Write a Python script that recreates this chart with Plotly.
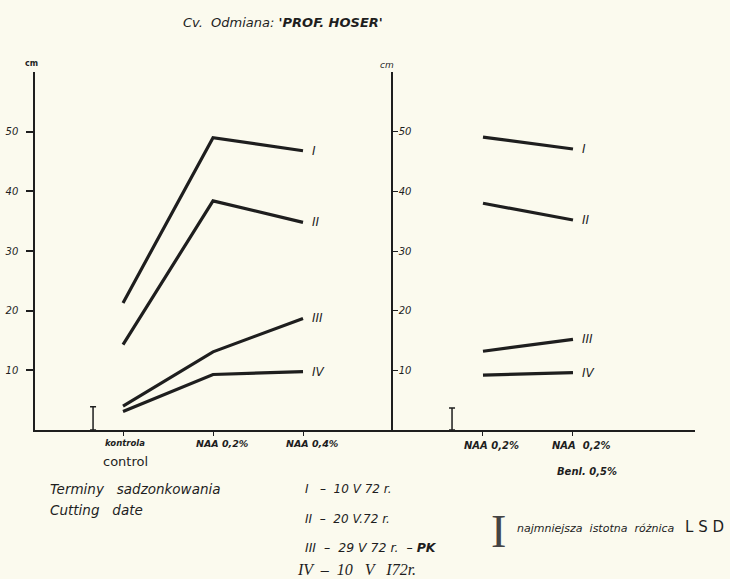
import plotly.graph_objects as go

# ---- data ----
left_categories = ["kontrola", "NAA 0,2%", "NAA 0,4%"]
left_sublabels = ["control", "", ""]
right_categories = ["NAA 0,2%", "NAA  0,2%"]
right_sublabels = ["", "Benl. 0,5%"]
series_names = ["I", "II", "III", "IV"]
left_values = {
    "I": [21.3, 49.0, 46.8],
    "II": [14.3, 38.4, 34.8],
    "III": [4.0, 13.1, 18.7],
    "IV": [3.1, 9.3, 9.8],
}
right_values = {
    "I": [49.1, 47.1],
    "II": [38.0, 35.2],
    "III": [13.2, 15.2],
    "IV": [9.2, 9.6],
}
lsd_left = 3.9
lsd_right = 3.7
y_ticks = [10, 20, 30, 40, 50]

# ---- layout constants ----
W, H = 730, 579
ML, MR, MT, MB = 35, 35, 72, 149
PW = W - ML - MR
PH = H - MT - MB
split = 358 / PW
LSD_POS_LEFT = -0.333
LSD_POS_RIGHT = -0.344
BG = "#fbfaee"
INK = "#1e1e1e"
SANS = "DejaVu Sans"
SERIF = "Liberation Serif"


def px(x, y):
    return (x - ML) / PW, (H - MB - y) / PH


def ann(text, x, y, size, xanchor="left", family=SANS, style="italic", color=INK):
    ax, ay = px(x, y)
    return dict(text=text, xref="paper", yref="paper", x=ax, y=ay,
                xanchor=xanchor, yanchor="middle", showarrow=False,
                font=dict(family=family, size=size, color=color, style=style))


fig = go.Figure()

left_x = list(range(len(left_categories)))
right_x = list(range(len(right_categories)))

for name in series_names:
    fig.add_trace(go.Scatter(x=left_x, y=left_values[name], mode="lines",
                             line=dict(color=INK, width=3.2), xaxis="x", yaxis="y",
                             showlegend=False))
    fig.add_trace(go.Scatter(x=right_x, y=right_values[name], mode="lines",
                             line=dict(color=INK, width=3.2), xaxis="x2", yaxis="y2",
                             showlegend=False))

# LSD bars
for xa, ya, pos, val in [("x", "y", LSD_POS_LEFT, lsd_left), ("x2", "y2", LSD_POS_RIGHT, lsd_right)]:
    fig.add_trace(go.Scatter(x=[pos], y=[0], mode="markers", xaxis=xa, yaxis=ya,
                             marker=dict(size=1, color="rgba(0,0,0,0)"), showlegend=False,
                             error_y=dict(type="data", symmetric=False, array=[val],
                                          arrayminus=[0], width=3, thickness=1.5, color=INK)))

annotations = []
# series labels at line ends
for name in series_names:
    annotations.append(dict(text=name, x=left_x[-1], y=left_values[name][-1], xref="x", yref="y",
                            xanchor="left", yanchor="middle", xshift=7, showarrow=False,
                            font=dict(family=SANS, size=12, color=INK, style="italic")))
    annotations.append(dict(text=name, x=right_x[-1], y=right_values[name][-1], xref="x2", yref="y2",
                            xanchor="left", yanchor="middle", xshift=7, showarrow=False,
                            font=dict(family=SANS, size=12, color=INK, style="italic")))

# category labels
for i, (c, s) in enumerate(zip(left_categories, left_sublabels)):
    annotations.append(dict(text=f"<b>{c}</b>", x=i, y=0, xref="x", yref="y", yanchor="middle",
                            yshift=-13, xshift=2 if i == 0 else 9, showarrow=False,
                            font=dict(family=SANS, size=8.5 if i == 0 else 9.5, color=INK,
                                      style="italic")))
    if s:
        annotations.append(dict(text=s, x=i, y=0, xref="x", yref="y", yanchor="middle",
                                yshift=-31, xshift=2, showarrow=False,
                                font=dict(family=SANS, size=13, color=INK)))
for i, (c, s) in enumerate(zip(right_categories, right_sublabels)):
    annotations.append(dict(text=f"<b>{c}</b>", x=i, y=0, xref="x2", yref="y2", yanchor="middle",
                            yshift=-15, xshift=9, showarrow=False,
                            font=dict(family=SANS, size=10, color=INK, style="italic")))
    if s:
        annotations.append(dict(text=f"<b>{s}</b>", x=i, y=0, xref="x2", yref="y2", yanchor="middle",
                                yshift=-41, xshift=14, showarrow=False,
                                font=dict(family=SANS, size=10, color=INK, style="italic")))

# cm labels
annotations.append(ann("<b>cm</b>", 31, 63, 8, xanchor="center", style="normal"))
annotations.append(ann("cm", 387, 65, 9, xanchor="center"))

# title
annotations.append(ann("Cv.  Odmiana: <b>'PROF. HOSER'</b>", 283, 23, 13, xanchor="center"))

# bottom notes
annotations += [
    ann("Terminy   sadzonkowania", 48, 489, 13.5),
    ann("Cutting   date", 48, 510, 13.5),
    ann("I   –  10 V 72 r.", 303, 489, 12),
    ann("II  –  20 V.72 r.", 303, 519, 12),
    ann("III  –  29 V 72 r.  – <b>PK</b>", 303, 547, 12.5),
    ann("IV  –  10   V   I72r.", 295, 569, 16, family=SERIF),
    ann("I", 498, 531, 46, xanchor="center", family=SERIF, style="normal", color="#444"),
    ann("najmniejsza  istotna  różnica", 515, 528, 11),
    ann("L S D", 683, 527, 15, style="normal"),
]

axis_common = dict(showline=True, linecolor=INK, linewidth=1.5, showgrid=False, zeroline=False)

fig.update_layout(
    width=W, height=H,
    margin=dict(l=ML, r=MR, t=MT, b=MB),
    paper_bgcolor=BG, plot_bgcolor=BG,
    showlegend=False,
    annotations=annotations,
    xaxis=dict(domain=[0, split], range=[-0.978, 3.0], tickvals=left_x,
               ticktext=[""] * len(left_x), ticks="outside", ticklen=4, tickwidth=1.2,
               tickcolor=INK, anchor="y", **axis_common),
    xaxis2=dict(domain=[split, 1], range=[-1, 2.356], tickvals=right_x,
                ticktext=[""] * len(right_x), ticks="outside", ticklen=4, tickwidth=1.2,
                tickcolor=INK, anchor="y2", **axis_common),
    yaxis=dict(range=[0, 60], tickvals=y_ticks, ticks="outside", ticklen=7, tickwidth=1.5,
               tickcolor=INK, anchor="x", ticklabelstandoff=6, automargin=False,
               tickfont=dict(family=SANS, size=10, color=INK, style="italic"), **axis_common),
    yaxis2=dict(range=[0, 60], tickvals=y_ticks, ticks="inside", ticklen=5, tickwidth=1.2,
                tickcolor=INK, anchor="x2", ticklabelposition="inside", ticklabelstandoff=0,
                automargin=False,
                tickfont=dict(family=SANS, size=10, color=INK, style="italic"), **axis_common),
)

fig.write_html("out.html", config={"displayModeBar": False},
               post_script="document.body.style.margin='0';document.body.style.background='" + BG + "';")
